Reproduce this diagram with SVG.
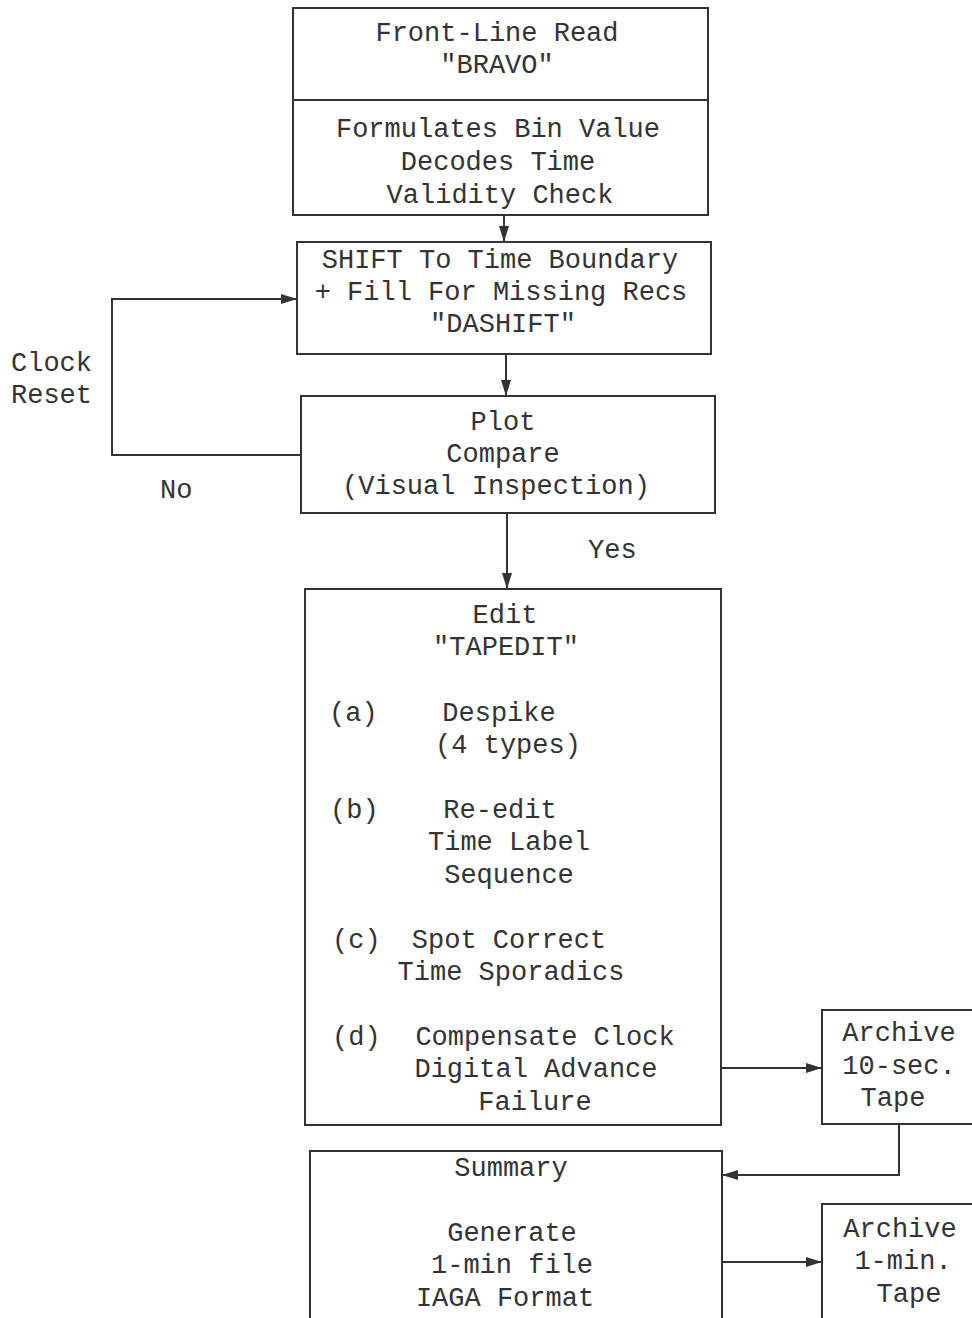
<svg xmlns="http://www.w3.org/2000/svg" width="972" height="1318" viewBox="0 0 972 1318">
<defs>
<style>
.box{fill:none;stroke:#333;stroke-width:2}
.ln{fill:none;stroke:#333;stroke-width:2}
text{font-family:"Liberation Mono","Courier New",monospace;font-size:27px;fill:#333;text-anchor:middle}
.l{text-anchor:start}
</style>
<marker id="ah" markerWidth="16" markerHeight="10" refX="15" refY="5" orient="auto" markerUnits="userSpaceOnUse">
<path d="M0,0 L16,5 L0,10 Z" fill="#333"/>
</marker>
</defs>
<rect width="972" height="1318" fill="#fff"/>
<g id="connectors">
<line class="ln" x1="504" y1="215" x2="504" y2="241" marker-end="url(#ah)"/>
<line class="ln" x1="506" y1="354" x2="506" y2="395" marker-end="url(#ah)"/>
<line class="ln" x1="507" y1="513" x2="507" y2="588" marker-end="url(#ah)"/>
<polyline class="ln" points="301,455 112,455 112,299 296,299" marker-end="url(#ah)"/>
<line class="ln" x1="721" y1="1068" x2="821" y2="1068" marker-end="url(#ah)"/>
<polyline class="ln" points="899,1124 899,1175 723,1175" marker-end="url(#ah)"/>
<line class="ln" x1="722" y1="1262" x2="821" y2="1262" marker-end="url(#ah)"/>
<text class="l" x="11" y="371">Clock</text>
<text class="l" x="11" y="403">Reset</text>
<text class="l" x="160" y="498">No</text>
<text class="l" x="588" y="558">Yes</text>
</g>
<g id="frontline">
<rect class="box" x="293" y="8" width="415" height="207"/>
<line class="ln" x1="293" y1="100" x2="708" y2="100"/>
<text x="497" y="41">Front-Line Read</text>
<text x="497" y="73">"BRAVO"</text>
<text x="498" y="137">Formulates Bin Value</text>
<text x="498" y="170">Decodes Time</text>
<text x="500" y="203">Validity Check</text>
</g>
<g id="shift">
<rect class="box" x="297" y="242" width="414" height="112"/>
<text x="500" y="268">SHIFT To Time Boundary</text>
<text x="501" y="300">+ Fill For Missing Recs</text>
<text x="503" y="332">"DASHIFT"</text>
</g>
<g id="plot">
<rect class="box" x="301" y="396" width="414" height="117"/>
<text x="503" y="430">Plot</text>
<text x="503" y="462">Compare</text>
<text x="496" y="494">(Visual Inspection)</text>
</g>
<g id="edit">
<rect class="box" x="305" y="589" width="416" height="536"/>
<text x="505" y="623">Edit</text>
<text x="506" y="655">"TAPEDIT"</text>
<text class="l" x="329" y="721">(a)</text>
<text x="499" y="721">Despike</text>
<text x="508" y="753">(4 types)</text>
<text class="l" x="330" y="818">(b)</text>
<text x="500" y="818">Re-edit</text>
<text x="509" y="850">Time Label</text>
<text x="509" y="883">Sequence</text>
<text class="l" x="332" y="948">(c)</text>
<text x="509" y="948">Spot Correct</text>
<text x="511" y="980">Time Sporadics</text>
<text class="l" x="332" y="1045">(d)</text>
<text x="545" y="1045">Compensate Clock</text>
<text x="536" y="1077">Digital Advance</text>
<text x="535" y="1110">Failure</text>
</g>
<g id="summary">
<path class="box" d="M310,1320 L310,1151 L722,1151 L722,1320"/>
<text x="511" y="1176">Summary</text>
<text x="512" y="1241">Generate</text>
<text x="512" y="1273">1-min file</text>
<text x="505" y="1306">IAGA Format</text>
</g>
<g id="archive10">
<rect class="box" x="822" y="1010" width="170" height="114"/>
<text x="899" y="1041">Archive</text>
<text x="899" y="1074">10-sec.</text>
<text x="893" y="1106">Tape</text>
</g>
<g id="archive1">
<path class="box" d="M822,1320 L822,1204 L990,1204"/>
<text x="900" y="1237">Archive</text>
<text x="903" y="1269">1-min.</text>
<text x="909" y="1302">Tape</text>
</g>
</svg>
